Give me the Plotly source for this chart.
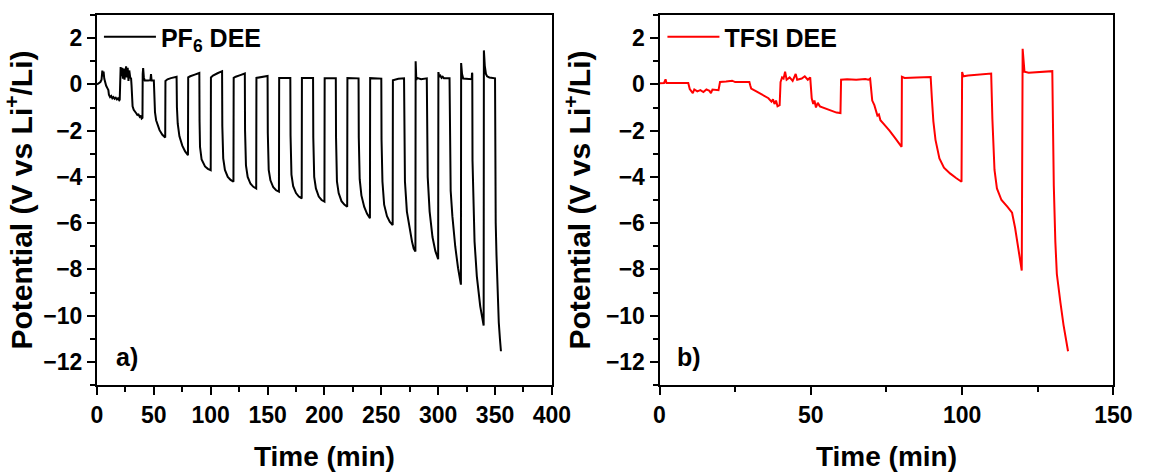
import plotly.graph_objects as go

# ---------------- data ----------------
# Panel a) PF6 DEE : time (min) and potential (V vs Li+/Li)
pf6_time = [
    0, 1, 2, 3, 4, 4.7, 5.3, 5.8, 6.4, 7, 8, 9, 10, 10.5, 11.5, 12.5, 13.5, 14.5, 15.5, 16.5, 17.5, 18.5, 19.5, 19.9,
    20, 20.2, 20.8, 21.5, 22.2, 22.8, 23.5, 24.2, 25, 25.6, 26.3, 27, 27.7, 28.4, 29.2, 29.8,
    30, 30.4, 31.3, 32.3, 33.3, 34.5, 35.5, 36.5, 37.6, 38.5, 39.3, 40,
    40.2, 40.6, 41.2, 42, 45, 47, 47.5, 48, 50,
    50.3, 51, 52, 53.5, 55, 57.5, 60,
    60.2, 62, 65, 70,
    70.3, 71, 72.5, 75, 77.5, 80,
    80.2, 82, 86, 90,
    90.2, 90.6, 92, 95, 97.5, 100,
    100.2, 102, 106, 110,
    110.2, 111, 112.5, 115, 117.5, 120,
    120.2, 122, 126, 130,
    130.2, 131, 132.5, 135, 137.5, 140,
    140.2, 145, 150,
    150.2, 151, 152.5, 155, 157.5, 160,
    160.2, 170,
    170.2, 171, 172.5, 175, 177.5, 180,
    180.2, 190,
    190.2, 191, 192.5, 195, 197.5, 200,
    200.2, 210,
    210.2, 211, 212.5, 215, 217.5, 220,
    220.2, 230,
    230.2, 231, 232.5, 235, 237.5, 240,
    240.2, 250,
    250.2, 251, 252.5, 255, 257.5, 260,
    260.2, 265, 270,
    270.2, 270.8, 272.5, 275, 277, 278.5, 280,
    280.2, 280.8, 281.5, 283, 285, 290,
    290.2, 290.8, 292.5, 295, 297.5, 299, 300,
    300.2, 301, 302, 303, 304, 305, 310,
    310.2, 311, 312.5, 315, 317.5, 318.5, 320,
    320.2, 321, 322, 327, 329.5, 329.8, 330,
    330.2, 331, 332, 334, 337, 340,
    340.2, 341, 342, 343, 345, 350,
    350.1, 350.6, 351.3, 352.3, 353.3, 354.3, 355.2,
]
pf6_potential = [
    0.0, 0.03, 0.08, 0.1, 0.2, 0.6, 0.35, 0.55, 0.25, 0.1, -0.05, -0.15, -0.25, -0.45, -0.55, -0.5, -0.6, -0.55, -0.62, -0.58, -0.65, -0.6, -0.68, -0.65,
    -0.65, 0.45, 0.75, 0.35, 0.72, 0.25, 0.68, 0.2, 0.55, 0.78, 0.3, 0.72, 0.15, 0.6, 0.3, 0.25,
    0.25, -0.05, -0.95, -1.1, -1.2, -1.25, -1.32, -1.3, -1.4, -1.35, -1.48, -1.45,
    0.45, 0.7, 0.3, 0.17, 0.17, 0.18, 0.45, 0.17, 0.17,
    -0.5, -1.2, -1.55, -1.8, -1.98, -2.18, -2.3,
    0.15, 0.22, 0.27, 0.33,
    -1.0, -1.7, -2.25, -2.65, -2.9, -3.06,
    0.3, 0.35, 0.42, 0.49,
    -1.6, -2.7, -3.25, -3.55, -3.65, -3.71,
    0.3, 0.38, 0.48, 0.57,
    -1.8, -3.2, -3.7, -4.0, -4.13, -4.21,
    0.28, 0.33, 0.4, 0.47,
    -2.0, -3.5, -4.0, -4.3, -4.43, -4.5,
    0.28, 0.32, 0.36,
    -2.1, -3.7, -4.15, -4.45, -4.58, -4.64,
    0.28, 0.28,
    -2.2, -3.9, -4.4, -4.7, -4.85, -4.93,
    0.28, 0.28,
    -2.3, -4.0, -4.5, -4.85, -5.0, -5.07,
    0.27, 0.27,
    -2.3, -4.2, -4.7, -5.05, -5.2, -5.29,
    0.27, 0.26,
    -2.3, -4.1, -4.8, -5.3, -5.6, -5.79,
    0.27, 0.25,
    -2.4, -4.2, -5.2, -5.7, -5.95, -6.08,
    0.18, 0.24, 0.26,
    -2.5, -4.2, -5.5, -6.3, -6.8, -7.1, -7.23,
    1.0, 0.2, 0.28, 0.25, 0.22, 0.26,
    -2.2, -4.0, -5.5, -6.6, -7.2, -7.45, -7.56,
    0.53, 0.33, 0.38, 0.28, 0.33, 0.27, 0.27,
    -2.5, -4.6, -5.7, -7.0, -7.95, -8.3, -8.66,
    0.92, 0.45, 0.25, 0.22, 0.22, 0.5, 0.45,
    -3.3, -5.7, -6.8, -8.3, -9.6, -10.43,
    1.47, 0.8, 0.45, 0.35, 0.3, 0.26,
    -2.8, -6.0, -7.4, -9.0, -10.3, -11.0, -11.54,
]

# Panel b) TFSI DEE
tfsi_time = [
    0, 1.5, 2, 2.3, 5, 9.5,
    10, 10.5, 11, 11.5, 12.5, 13.5, 14.5, 15.5, 16.5, 17, 17.5, 19.5,
    20, 22, 24, 25, 29.7,
    30, 30.3, 32, 34, 36, 37, 37.5, 38, 38.5, 39, 39.7,
    40, 40.5, 41, 41.5, 42, 43, 44, 45, 45.5, 47, 48, 49, 49.8,
    50, 50.3, 50.8, 51.2, 51.7, 52.3, 53, 55, 57, 58.5, 59.8,
    60, 62, 65, 68, 69, 69.6,
    70, 70.3, 71, 71.5, 72, 72.5, 73, 74, 75, 76, 78, 80,
    80.1, 81, 85, 89.6,
    90, 90.5, 91.2, 92.5, 94, 96, 98, 99.8,
    100, 100.4, 102, 106, 109.6,
    110, 110.7, 111.5, 113, 115, 116.5, 117.5, 118.5, 119.7,
    120, 120.6, 122, 126, 129.8,
    130, 130.3, 130.8, 131.3, 132.5, 133.5, 135,
]
tfsi_potential = [
    0.05, 0.06, 0.22, 0.06, 0.06, 0.06,
    -0.2, -0.28, -0.38, -0.22, -0.3, -0.25, -0.33, -0.22, -0.28, -0.38, -0.22, -0.25,
    0.1, 0.12, 0.16, 0.1, 0.1,
    -0.05, -0.18, -0.3, -0.45, -0.6, -0.75, -0.65, -0.85, -0.7, -0.95, -0.9,
    0.1, 0.3, 0.25, 0.55, 0.2, 0.3, 0.15, 0.45, 0.2, 0.25, 0.35, 0.2, 0.3,
    -0.2, -0.6, -0.85, -0.7, -1.0, -0.8, -0.95, -1.05, -1.12, -1.22, -1.24,
    0.2, 0.22, 0.2, 0.23, 0.2, 0.25,
    -0.3, -0.7, -0.9, -1.2, -1.35, -1.3, -1.55, -1.7, -1.85, -2.0, -2.35, -2.7,
    0.33, 0.28, 0.3, 0.32,
    -0.6, -1.6, -2.4, -3.2, -3.6, -3.85, -4.05, -4.21,
    0.53, 0.35, 0.38, 0.42, 0.47,
    -1.5, -3.7, -4.5, -5.0, -5.3, -5.55, -6.2, -7.1, -8.05,
    1.54, 0.55, 0.5, 0.55, 0.57,
    -1.5, -4.4, -6.8, -8.2, -9.45, -10.4, -11.54,
]

series_names = ["PF<sub>6</sub> DEE", "TFSI DEE"]
panel_labels = ["a)", "b)"]
y_ticks = [-12, -10, -8, -6, -4, -2, 0, 2]

# ---------------- figure ----------------
W, H = 1152, 472
FONT = "Liberation Sans, Arial, Helvetica, sans-serif"

fig = go.Figure()
fig.add_trace(go.Scatter(x=pf6_time, y=pf6_potential, mode="lines",
                         line=dict(color="black", width=2),
                         name=series_names[0], xaxis="x", yaxis="y", legend="legend"))
fig.add_trace(go.Scatter(x=tfsi_time, y=tfsi_potential, mode="lines",
                         line=dict(color="#ff0000", width=2),
                         name=series_names[1], xaxis="x2", yaxis="y2", legend="legend2"))

tickfont = dict(family=FONT, size=23, color="black", weight="bold")
titlefont = dict(family=FONT, size=28, color="black", weight="bold")
ytitlefont = dict(family=FONT, size=30, color="black", weight="bold")

def axis_common(minor_dtick):
    return dict(showline=True, linecolor="black", linewidth=2, mirror=True,
                ticks="outside", ticklen=8, tickwidth=2, tickcolor="black",
                showgrid=False, zeroline=False, tickfont=tickfont,
                minor=dict(ticks="outside", ticklen=5, tickwidth=2,
                           tickcolor="black", dtick=minor_dtick, showgrid=False))

ydom = [87 / H, 457 / H]
fig.update_layout(
    width=W, height=H, autosize=False,
    margin=dict(l=0, r=0, t=0, b=0),
    paper_bgcolor="white", plot_bgcolor="white",
    xaxis=dict(domain=[93 / W, 558 / W], anchor="y", range=[0, 400], dtick=50,
               title=dict(text="Time (min)", font=titlefont, standoff=20),
               **axis_common(25)),
    yaxis=dict(domain=ydom, anchor="x", range=[-13, 3], tickvals=y_ticks,
               title=dict(text="Potential (V vs Li<sup>+</sup>/Li)", font=ytitlefont, standoff=6),
               **axis_common(1)),
    xaxis2=dict(domain=[668 / W, 1132 / W], anchor="y2", range=[0, 150], dtick=50,
                title=dict(text="Time (min)", font=titlefont, standoff=20),
                **axis_common(25)),
    yaxis2=dict(domain=ydom, anchor="x2", range=[-13, 3], tickvals=y_ticks,
                title=dict(text="Potential (V vs Li<sup>+</sup>/Li)", font=ytitlefont, standoff=6),
                **axis_common(1)),
    legend=dict(x=95 / W, y=1 - 37 / H, xanchor="left", yanchor="middle",
                bgcolor="rgba(0,0,0,0)", borderwidth=0, itemwidth=52,
                font=dict(family=FONT, size=25, color="black", weight="bold")),
    legend2=dict(x=671 / W, y=1 - 37 / H, xanchor="left", yanchor="middle",
                 bgcolor="rgba(0,0,0,0)", borderwidth=0, itemwidth=52,
                 font=dict(family=FONT, size=25, color="black", weight="bold")),
    showlegend=True,
)

for lab, xr, yr in [(panel_labels[0], "x domain", "y domain"), (panel_labels[1], "x2 domain", "y2 domain")]:
    fig.add_annotation(text=lab, xref=xr, yref=yr, x=0.066, y=0.076,
                       xanchor="center", yanchor="middle", showarrow=False,
                       font=dict(family=FONT, size=25, color="black", weight="bold"))

fig.write_html("out.html")
